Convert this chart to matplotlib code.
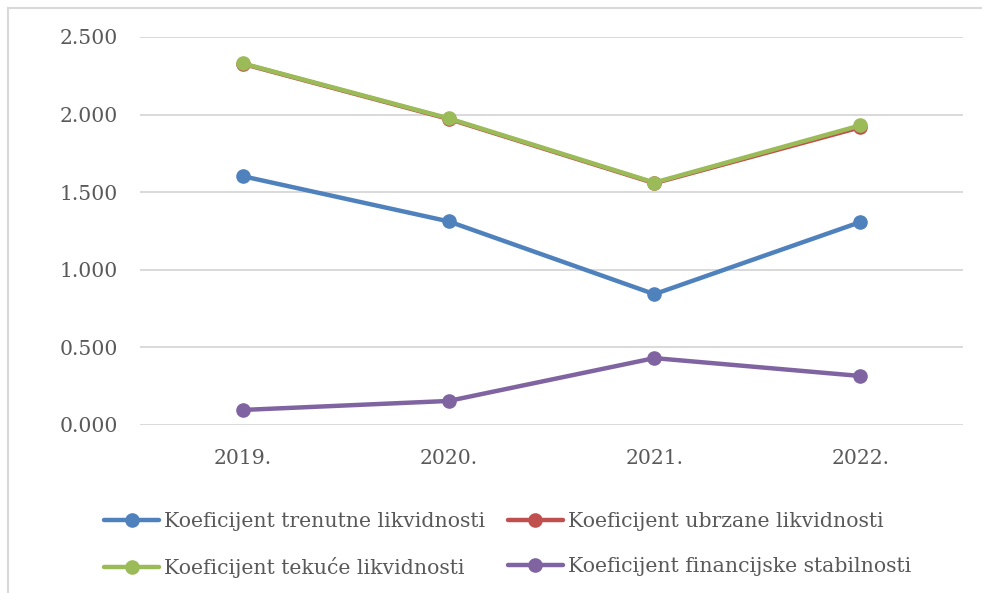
import matplotlib
matplotlib.use("Agg")
import matplotlib.pyplot as plt
from matplotlib.lines import Line2D
from matplotlib.ticker import FuncFormatter

years = ["2019.", "2020.", "2021.", "2022."]
trenutne = [1.603, 1.312, 0.843, 1.307]
ubrzane = [2.327, 1.972, 1.558, 1.918]
tekuce = [2.330, 1.976, 1.562, 1.930]
financijske = [0.097, 0.155, 0.431, 0.316]

series = [
    ("Koeficijent trenutne likvidnosti", trenutne, "#4f81bd"),
    ("Koeficijent ubrzane likvidnosti", ubrzane, "#c0504d"),
    ("Koeficijent tekuće likvidnosti", tekuce, "#9bbb59"),
    ("Koeficijent financijske stabilnosti", financijske, "#8064a2"),
]

plt.rcParams['font.family'] = ['DejaVu Serif']
txt = "#595959"
fs = 14.7

fig = plt.figure(figsize=(9.82, 5.93), dpi=100)
ax = fig.add_axes([140/982, 1-425/593, (963-140)/982, (425-37)/593])

x = list(range(len(years)))
handles = []
for name, vals, col in series:
    h, = ax.plot(x, vals, color=col, lw=3.2, marker='o', ms=9.5,
                 solid_capstyle='round', label=name, zorder=3)
    handles.append(h)

ax.set_xlim(-0.5, 3.5)
ax.set_ylim(0, 2.5)
ax.set_yticks([0, 0.5, 1.0, 1.5, 2.0, 2.5])
ax.yaxis.set_major_formatter(FuncFormatter(lambda v, p: f"{v:.3f}"))
ax.set_xticks(x)
ax.set_xticklabels(years)
ax.grid(axis='y', color='#d9d9d9', lw=1.4)
ax.set_axisbelow(True)
for s in ax.spines.values():
    s.set_visible(False)
ax.tick_params(length=0, labelsize=fs, colors=txt)
ax.tick_params(axis='y', pad=16)
ax.tick_params(axis='x', pad=17)

order = [0, 2, 1, 3]
leg = fig.legend(handles=[handles[i] for i in order], loc='upper left',
                 bbox_to_anchor=(104/982, 1-512/593),
                 ncol=2, frameon=False, fontsize=fs, handlelength=2.7,
                 handletextpad=0.25, columnspacing=1.1, labelspacing=1.27,
                 borderaxespad=0, borderpad=0)
for t in leg.get_texts():
    t.set_color(txt)

fig.add_artist(Line2D([8/982, 8/982], [1-592/593, 1-8/593], transform=fig.transFigure,
                      color='#d9d9d9', lw=1.5))
fig.add_artist(Line2D([8/982, 1.0], [1-8/593, 1-8/593], transform=fig.transFigure,
                      color='#d9d9d9', lw=1.5))

fig.savefig("out.png", dpi=100)
